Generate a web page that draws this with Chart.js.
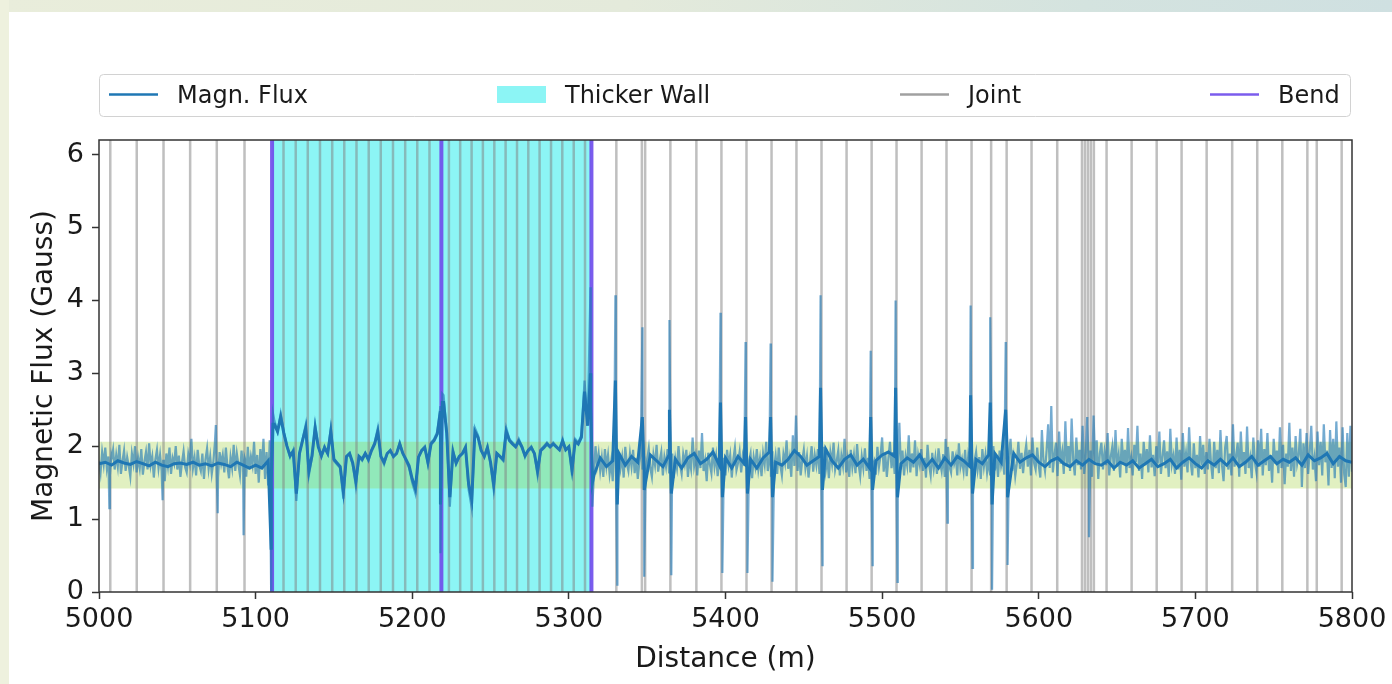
<!DOCTYPE html>
<html>
<head>
<meta charset="utf-8">
<script src="https://cdn.jsdelivr.net/npm/chart.js@4.4.1/dist/chart.umd.min.js"></script>
<style>
  html, body { margin: 0; padding: 0; }
  body { width: 1392px; height: 684px; overflow: hidden; position: relative; background: #ffffff; }
  #frameTop { position: absolute; left: 0; top: 0; width: 1392px; height: 12px;
    background: linear-gradient(to right, #e9eddb 0%, #e4eadb 45%, #d4e3df 78%, #cfe0e1 100%); }
  #frameLeft { position: absolute; left: 0; top: 0; width: 9px; height: 684px; background: #eef1de; }
  canvas { position: absolute; left: 0; top: 0; }
</style>
</head>
<body>
<div id="frameTop"></div>
<div id="frameLeft"></div>
<canvas id="fluxChart" width="1392" height="684"></canvas>
<script>
// ---- pipeline survey, 5000-5800 m ----
const X_MIN = 5000, X_MAX = 5800;
const Y_MIN = 0, Y_MAX = 6.2;
const xTickValues = [5000, 5100, 5200, 5300, 5400, 5500, 5600, 5700, 5800];
const yTickValues = [0, 1, 2, 3, 4, 5, 6];

// raw magnetic flux, west of the thicker wall: 1 m samples from 5000 m
const rawWestStart = 5000, rawWestStep = 1;
const rawFluxWest = [
  1.80, 1.64, 1.92, 1.75, 1.98, 1.70, 1.86, 1.60, 1.82, 1.95, // 5000
  1.68, 1.88, 1.72, 2.02, 1.62, 1.80, 1.94, 1.66, 1.85, 1.73, // 5010
  1.58, 1.90, 1.76, 2.00, 1.64, 1.84, 1.70, 1.96, 1.61, 1.79, // 5020
  1.92, 1.68, 2.04, 1.74, 1.86, 1.57, 1.82, 1.95, 1.70, 1.88, // 5030
  1.66, 1.80, 1.52, 1.90, 1.73, 1.98, 1.62, 1.84, 1.76, 2.00, // 5040
  1.68, 1.87, 1.58, 1.78, 1.93, 1.71, 1.64, 1.89, 1.77, 2.10, // 5050
  1.70, 1.84, 1.60, 1.95, 1.74, 1.66, 1.90, 1.55, 1.82, 1.97, // 5060
  1.69, 1.86, 1.62, 1.78, 2.05, 1.72, 1.58, 1.92, 1.76, 1.88, // 5070
  1.64, 1.98, 1.73, 1.56, 1.85, 1.70, 2.02, 1.66, 1.90, 1.75, // 5080
  1.60, 1.94, 1.72, 1.84, 1.58, 1.99, 1.68, 1.86, 1.74, 2.06, // 5090
  1.62, 1.88, 1.50, 1.96, 1.70, 2.10, 1.55, 1.92, 1.46, 2.08  // 5100
];

// raw magnetic flux along the thicker wall: 2 m samples from 5110 m
const rawWallStart = 5110, rawWallStep = 2;
const rawFluxWall = [
  1.50, 2.35, 2.20, 2.45, 2.20,                               // 5110
  2.00, 1.85, 1.95, 1.25, 1.90, 2.10, 2.30, 1.60, 1.85, 2.30, // 5120
  2.00, 1.85, 2.00, 1.90, 2.25, 1.80, 1.75, 1.70, 1.28, 1.85, // 5140
  1.90, 1.75, 1.45, 1.85, 1.80, 1.90, 1.80, 1.95, 2.05, 2.25, // 5160
  1.85, 1.75, 1.90, 1.95, 1.85, 1.90, 2.05, 1.90, 1.80, 1.70, // 5180
  1.50, 1.35, 1.85, 1.95, 2.00, 1.75, 2.05, 2.10, 2.20, 2.55, // 5200
  2.70, 2.20, 1.17, 1.95, 1.75, 1.85, 1.90, 2.00, 1.40, 1.15, // 5220
  2.25, 2.15, 1.95, 1.85, 2.00, 1.75, 1.40, 1.90, 1.85, 1.80, // 5240
  2.25, 2.10, 2.05, 2.00, 2.10, 2.00, 1.85, 1.95, 2.00, 1.90, // 5260
  1.60, 1.95, 2.00, 2.05, 2.00, 2.05, 2.00, 1.95, 2.10, 1.95, // 5280
  2.00, 1.60, 2.10, 2.05, 2.15, 2.90, 2.30, 2.60              // 5300
];

// raw magnetic flux, east of the thicker wall: 1 m samples from 5315 m
const rawEastStart = 5315, rawEastStep = 1;
const rawFluxEast = [
  1.30, 1.62, 2.00, 1.74, 1.90,                               // 5315
  1.66, 1.84, 1.58, 1.96, 1.72, 1.88, 1.62, 1.79, 1.52, 2.05, // 5320
  1.75, 1.60, 1.92, 1.70, 1.85, 1.57, 1.99, 1.76, 1.66, 1.90, // 5330
  1.72, 1.95, 1.63, 1.84, 1.55, 1.78, 1.93, 1.68, 1.86, 1.60, // 5340
  1.82, 1.97, 1.70, 1.58, 1.88, 1.74, 2.02, 1.65, 1.80, 1.92, // 5350
  1.60, 1.85, 1.72, 1.96, 1.64, 1.78, 1.90, 1.56, 1.83, 1.70, // 5360
  2.00, 1.74, 1.62, 1.89, 1.76, 1.95, 1.58, 1.82, 1.69, 2.12, // 5370
  1.73, 1.86, 1.60, 1.94, 1.70, 2.18, 1.66, 1.80, 1.52, 1.91, // 5380
  1.75, 1.63, 1.98, 1.72, 1.87, 1.59, 1.79, 2.04, 1.68, 1.84, // 5390
  1.60, 1.95, 1.74, 1.88, 1.57, 1.82, 1.98, 1.67, 1.77, 1.92, // 5400
  1.64, 1.86, 1.73, 2.01, 1.61, 1.80, 1.90, 1.56, 1.85, 1.72, // 5410
  1.96, 1.68, 1.83, 1.59, 1.90, 1.75, 2.06, 1.66, 1.81, 1.58, // 5420
  1.93, 1.71, 1.87, 1.62, 1.98, 1.74, 1.60, 1.89, 1.77, 2.08, // 5430
  1.69, 1.84, 1.58, 2.15, 1.73, 2.42, 1.66, 1.92, 1.60, 1.81, // 5440
  1.95, 1.70, 1.86, 1.57, 1.79, 2.00, 1.65, 1.88, 1.74, 1.96, // 5450
  1.62, 1.85, 1.72, 1.99, 1.67, 1.83, 1.56, 1.91, 1.76, 2.05, // 5460
  1.68, 1.80, 1.94, 1.60, 1.87, 1.73, 2.10, 1.64, 1.82, 1.58, // 5470
  1.95, 1.71, 1.88, 1.63, 2.03, 1.75, 1.59, 1.86, 1.70, 1.97, // 5480
  1.66, 1.84, 1.55, 1.92, 1.74, 1.80, 1.61, 1.99, 1.72, 1.87, // 5490
  2.12, 1.65, 1.90, 1.58, 1.83, 2.06, 1.70, 1.92, 1.62, 1.85, // 5500
  1.76, 2.32, 1.68, 1.94, 1.60, 1.86, 1.73, 2.15, 1.64, 1.90, // 5510
  1.71, 2.08, 1.59, 1.88, 1.75, 1.96, 1.66, 1.84, 1.57, 2.02, // 5520
  1.74, 1.60, 1.91, 1.69, 1.85, 1.62, 1.97, 1.78, 1.66, 1.89, // 5530
  1.58, 1.83, 1.99, 1.72, 1.64, 1.93, 1.76, 1.86, 1.60, 2.04, // 5540
  1.71, 1.82, 1.66, 1.95, 1.59, 1.87, 1.74, 1.98, 1.63, 1.80, // 5550
  1.92, 1.68, 1.85, 1.55, 1.96, 1.72, 1.88, 1.64, 1.81, 1.60, // 5560
  1.79, 2.00, 1.67, 1.86, 1.58, 1.94, 1.73, 1.83, 1.61, 1.97, // 5570
  1.70, 1.88, 2.10, 1.66, 1.84, 1.59, 1.76, 2.06, 1.69, 1.91, // 5580
  1.63, 1.86, 2.02, 1.72, 1.95, 1.60, 2.12, 1.77, 1.68, 1.98, // 5590
  1.74, 1.57, 2.22, 1.80, 1.66, 1.94, 2.30, 1.70, 2.55, 1.64, // 5600
  1.88, 2.05, 1.59, 2.20, 1.76, 1.92, 1.62, 2.34, 1.73, 2.00, // 5610
  1.66, 2.38, 1.81, 1.60, 2.12, 1.74, 1.95, 1.68, 2.28, 1.62, // 5620
  1.85, 2.30, 1.70, 1.94, 1.58, 2.42, 1.76, 2.08, 1.55, 1.90, // 5630
  2.05, 1.68, 1.92, 1.74, 2.18, 1.60, 1.86, 2.00, 1.66, 2.22, // 5640
  1.72, 1.88, 1.57, 2.10, 1.76, 1.95, 1.63, 2.25, 1.70, 1.84, // 5650
  1.60, 2.02, 1.78, 2.28, 1.66, 1.90, 1.55, 2.06, 1.74, 1.96, // 5660
  1.64, 2.15, 1.71, 1.88, 1.59, 2.00, 1.76, 2.20, 1.62, 1.85, // 5670
  2.08, 1.70, 1.93, 1.58, 2.24, 1.75, 1.87, 1.62, 2.12, 1.68, // 5680
  1.95, 1.54, 2.18, 1.72, 1.90, 1.64, 2.26, 1.78, 1.60, 2.04, // 5690
  1.70, 1.88, 1.57, 2.14, 1.74, 2.02, 1.62, 1.92, 1.68, 2.10, // 5700
  1.76, 1.55, 2.06, 1.70, 1.95, 1.63, 2.22, 1.74, 1.52, 1.98, // 5710
  2.14, 1.68, 1.90, 1.60, 2.30, 1.72, 1.86, 2.05, 1.58, 2.20, // 5720
  1.75, 1.92, 1.62, 2.27, 1.70, 1.84, 1.56, 2.12, 1.78, 1.64, // 5730
  2.08, 1.72, 2.24, 1.60, 1.96, 1.74, 2.18, 1.66, 1.88, 1.50, // 5740
  2.10, 1.76, 1.94, 1.63, 2.26, 1.70, 2.02, 1.48, 1.90, 1.72, // 5750
  2.32, 1.66, 1.98, 1.58, 2.14, 1.76, 1.88, 2.24, 1.44, 2.04, // 5760
  1.70, 2.18, 1.62, 1.92, 2.28, 1.68, 1.84, 1.52, 2.20, 1.74, // 5770
  2.06, 1.60, 2.30, 1.78, 1.94, 1.46, 2.22, 1.70, 2.10, 1.56, // 5780
  2.34, 1.72, 1.98, 1.50, 2.26, 1.62, 1.44, 2.18, 1.58, 2.28, // 5790
  1.65                                                        // 5800
];

// smoothed magnetic flux
const smoothWestStart = 5000, smoothWestStep = 4;
const smoothFluxWest = [
  1.76, 1.78, 1.74, 1.80, 1.77, 1.75, 1.79, 1.76, 1.73, 1.78,
  1.74, 1.72, 1.76, 1.77, 1.75, 1.78, 1.74, 1.76, 1.73, 1.77,
  1.75, 1.72, 1.78, 1.74, 1.70, 1.74, 1.70, 1.80
];
const smoothWallStart = 5110, smoothWallStep = 2;
const smoothFluxWall = [
  1.55, 2.30, 2.20, 2.40, 2.18,                               // 5110
  2.00, 1.87, 1.93, 1.35, 1.90, 2.08, 2.25, 1.66, 1.87, 2.25, // 5120
  1.99, 1.87, 1.98, 1.90, 2.20, 1.82, 1.77, 1.72, 1.38, 1.86, // 5140
  1.90, 1.77, 1.52, 1.86, 1.82, 1.90, 1.82, 1.94, 2.03, 2.20, // 5160
  1.86, 1.78, 1.90, 1.94, 1.86, 1.90, 2.03, 1.90, 1.82, 1.73, // 5180
  1.55, 1.42, 1.85, 1.94, 1.98, 1.78, 2.03, 2.08, 2.17, 2.48, // 5200
  2.60, 2.18, 1.30, 1.92, 1.77, 1.86, 1.90, 1.98, 1.48, 1.27, // 5220
  2.20, 2.12, 1.94, 1.86, 1.98, 1.78, 1.48, 1.90, 1.86, 1.82, // 5240
  2.20, 2.08, 2.03, 1.99, 2.07, 1.99, 1.87, 1.94, 1.98, 1.90, // 5260
  1.66, 1.94, 1.98, 2.03, 1.99, 2.03, 1.99, 1.95, 2.07, 1.95, // 5280
  1.99, 1.68, 2.07, 2.03, 2.12, 2.75, 2.28, 2.55              // 5300
];
const smoothEastStart = 5316, smoothEastStep = 4;
const smoothFluxEast = [
  1.60,                          // 5316
  1.84, 1.72, 1.80, 1.90, 1.74,  // 5320
  1.86, 1.78, 1.70, 1.88, 1.80,  // 5340
  1.72, 1.88, 1.82, 1.70, 1.84,  // 5360
  1.90, 1.76, 1.82, 1.92, 1.74,  // 5380
  1.84, 1.70, 1.86, 1.76, 1.82,  // 5400
  1.70, 1.84, 1.92, 1.78, 1.74,  // 5420
  1.82, 1.94, 1.86, 1.74, 1.80,  // 5440
  1.86, 1.96, 1.80, 1.70, 1.82,  // 5460
  1.88, 1.74, 1.82, 1.70, 1.80,  // 5480
  1.88, 1.92, 1.86, 1.76, 1.84,  // 5500
  1.78, 1.88, 1.72, 1.82, 1.70,  // 5520
  1.84, 1.74, 1.86, 1.80, 1.72,  // 5540
  1.82, 1.76, 1.88, 1.90, 1.78,  // 5560
  1.86, 1.90, 1.78, 1.84, 1.88,  // 5580
  1.78, 1.72, 1.80, 1.84, 1.76,  // 5600
  1.72, 1.80, 1.74, 1.82, 1.76,  // 5620
  1.74, 1.80, 1.70, 1.78, 1.74,  // 5640
  1.80, 1.70, 1.76, 1.82, 1.72,  // 5660
  1.76, 1.82, 1.70, 1.78, 1.84,  // 5680
  1.76, 1.70, 1.80, 1.74, 1.82,  // 5700
  1.74, 1.84, 1.72, 1.78, 1.86,  // 5720
  1.74, 1.80, 1.86, 1.76, 1.82,  // 5740
  1.78, 1.84, 1.74, 1.88, 1.80,  // 5760
  1.84, 1.90, 1.76, 1.86, 1.80,  // 5780
  1.78                           // 5800
];

// flux excursions at joints and bends: [distance (m), first value, second value]
const rawSpikes = [
  [5007.2, 1.15, 1.85], [5041.2, 1.26, 1.80], [5075.2, 2.29, 1.08], [5092.9, 0.78, 1.80],
  [5110.5, 0.03, 2.45], [5218.6, 0.53, 2.72], [5314.4, 4.18, 1.17],
  [5330.3, 4.07, 0.10], [5347.5, 3.63, 0.21], [5364.8, 3.73, 0.23], [5397.4, 3.83, 0.26],
  [5413.4, 3.43, 0.26], [5429.4, 3.41, 0.14], [5461.3, 4.07, 0.37], [5493.3, 3.31, 0.37],
  [5509.2, 4.00, 0.14], [5541.1, 2.10, 0.95], [5557.1, 3.93, 0.33], [5569.6, 3.77, 0.03],
  [5579.5, 3.43, 0.37], [5631.5, 2.40, 0.75]
];
const smoothSpikes = [
  [5110.5, 0.60, 2.30], [5218.6, 1.20, 2.60], [5314.4, 3.00, 1.50],
  [5330.3, 2.90, 1.20], [5347.5, 2.40, 1.40], [5364.8, 2.50, 1.35], [5397.4, 2.60, 1.30],
  [5413.4, 2.40, 1.35], [5429.4, 2.40, 1.30], [5461.3, 2.80, 1.40], [5493.3, 2.40, 1.40],
  [5509.2, 2.80, 1.30], [5557.1, 2.70, 1.35], [5569.6, 2.60, 1.20], [5579.5, 2.50, 1.30]
];

// pipe joints (m)
const jointPositions = [
  5007.2, 5024.1, 5041.2, 5058.2, 5075.2, 5092.9,
  5117.8, 5125.6, 5133.3, 5141.1, 5148.9, 5156.6, 5164.4, 5172.2, 5179.9, 5187.7, 5195.5, 5203.2, 5211.0,
  5223.4, 5230.6, 5237.9, 5245.1, 5252.4, 5259.6, 5266.9, 5274.1, 5281.3, 5288.6, 5295.8, 5303.1, 5310.3,
  5330.3, 5346.6, 5348.7, 5364.8, 5381.4, 5397.4, 5413.4, 5429.4, 5445.3, 5461.3, 5477.3, 5493.3,
  5509.2, 5525.2, 5541.1, 5557.1, 5569.6, 5579.5, 5595.4, 5611.8,
  5627.6, 5629.5, 5631.4, 5633.3, 5635.2,
  5643.3, 5659.3, 5675.3, 5691.2, 5707.2, 5723.5, 5739.5, 5755.5, 5771.5, 5777.5, 5793.4
];
// pipe bends (m)
const bendPositions = [5110.5, 5218.6, 5314.4];
// thicker-wall section (start, end in m)
const thickerWall = [5110.5, 5314.4];
// normal flux band (Gauss)
const normalBand = [1.42, 2.06];

const legendLabels = ['Magn. Flux', 'Thicker Wall', 'Joint', 'Bend'];

const FONT = "'DejaVu Sans', 'Liberation Sans', sans-serif";
const FLUX_BLUE = '#1f77b4';
const CYAN_FILL = 'rgba(0, 232, 232, 0.45)';
const JOINT_GRAY = 'rgba(128, 128, 128, 0.5)';
const BEND_PURPLE = 'rgba(112, 78, 236, 0.92)';
const BAND_GREEN = 'rgba(154, 205, 50, 0.30)';

function samples(start, step, values) {
  return values.map((v, i) => ({ x: start + step * i, y: v }));
}

function withSpikes(points, spikes) {
  const pts = points.slice();
  spikes.forEach(([d, a, b]) => {
    pts.push({ x: d - 0.6, y: a });
    pts.push({ x: d + 0.6, y: b });
  });
  pts.sort((p, q) => p.x - q.x);
  return pts;
}

function verticalLines(list) {
  const pts = [];
  list.forEach(d => { pts.push({ x: d, y: Y_MIN }, { x: d, y: Y_MAX }, { x: d, y: null }); });
  return pts;
}

const rawSeries = withSpikes([].concat(
  samples(rawWestStart, rawWestStep, rawFluxWest),
  samples(rawWallStart, rawWallStep, rawFluxWall),
  samples(rawEastStart, rawEastStep, rawFluxEast)
), rawSpikes);

const smoothSeries = withSpikes([].concat(
  samples(smoothWestStart, smoothWestStep, smoothFluxWest),
  samples(smoothWallStart, smoothWallStep, smoothFluxWall),
  samples(smoothEastStart, smoothEastStep, smoothFluxEast)
), smoothSpikes);

const lineBase = { pointRadius: 0, pointHoverRadius: 0, tension: 0, spanGaps: false };

// legend box above the axes, plus the four spines
const frameAndLegend = {
  id: 'frameAndLegend',
  afterDraw(chart) {
    const ctx = chart.ctx;
    const a = chart.chartArea;
    ctx.save();
    ctx.strokeStyle = '#333333';
    ctx.lineWidth = 1.5;
    ctx.strokeRect(a.left, a.top, a.right - a.left, a.bottom - a.top);

    const bx = 99.5, by = 74.5, bw = 1251, bh = 42, r = 4;
    ctx.beginPath();
    ctx.moveTo(bx + r, by);
    ctx.arcTo(bx + bw, by, bx + bw, by + bh, r);
    ctx.arcTo(bx + bw, by + bh, bx, by + bh, r);
    ctx.arcTo(bx, by + bh, bx, by, r);
    ctx.arcTo(bx, by, bx + bw, by, r);
    ctx.closePath();
    ctx.fillStyle = 'rgba(255,255,255,0.85)';
    ctx.fill();
    ctx.strokeStyle = '#d2d2d2';
    ctx.lineWidth = 1;
    ctx.stroke();

    const cy = 94.5;
    const items = [
      { kind: 'line', color: FLUX_BLUE, width: 2.5, x: 109 },
      { kind: 'rect', color: CYAN_FILL, x: 497 },
      { kind: 'line', color: 'rgba(128,128,128,0.75)', width: 2.5, x: 900 },
      { kind: 'line', color: BEND_PURPLE, width: 2.5, x: 1210 }
    ];
    ctx.font = '24px ' + FONT;
    ctx.textBaseline = 'alphabetic';
    ctx.textAlign = 'left';
    items.forEach((it, i) => {
      if (it.kind === 'line') {
        ctx.strokeStyle = it.color;
        ctx.lineWidth = it.width;
        ctx.beginPath();
        ctx.moveTo(it.x, cy);
        ctx.lineTo(it.x + 49, cy);
        ctx.stroke();
      } else {
        ctx.fillStyle = it.color;
        ctx.fillRect(it.x, cy - 8.5, 49, 17);
      }
      ctx.fillStyle = '#1a1a1a';
      ctx.fillText(legendLabels[i], it.x + 68, 102.5);
    });
    ctx.restore();
  }
};

new Chart(document.getElementById('fluxChart'), {
  type: 'line',
  data: {
    datasets: [
      Object.assign({}, lineBase, {
        label: 'Thicker Wall',
        data: [{ x: thickerWall[0], y: Y_MAX }, { x: thickerWall[1], y: Y_MAX }],
        borderWidth: 0, borderColor: 'rgba(0,0,0,0)',
        backgroundColor: CYAN_FILL, fill: 'origin', order: 6
      }),
      Object.assign({}, lineBase, {
        label: 'Normal range',
        data: [{ x: X_MIN, y: normalBand[1] }, { x: X_MAX, y: normalBand[1] }],
        borderWidth: 0, borderColor: 'rgba(0,0,0,0)',
        backgroundColor: BAND_GREEN, fill: { value: normalBand[0] }, order: 5
      }),
      Object.assign({}, lineBase, {
        label: 'Joint',
        data: verticalLines(jointPositions),
        borderColor: JOINT_GRAY, borderWidth: 2.5, fill: false, order: 4
      }),
      Object.assign({}, lineBase, {
        label: 'Bend',
        data: verticalLines(bendPositions),
        borderColor: BEND_PURPLE, borderWidth: 4, fill: false, order: 3
      }),
      Object.assign({}, lineBase, {
        label: 'Magn. Flux',
        data: rawSeries,
        borderColor: 'rgba(31,119,180,0.62)', borderWidth: 2.2, fill: false, order: 2
      }),
      Object.assign({}, lineBase, {
        label: 'Magn. Flux (smoothed)',
        data: smoothSeries,
        borderColor: FLUX_BLUE, borderWidth: 3, fill: false, order: 1
      })
    ]
  },
  options: {
    responsive: false,
    animation: false,
    events: [],
    layout: { padding: { top: 140, right: 40, bottom: 0, left: 0 } },
    plugins: { legend: { display: false }, tooltip: { enabled: false } },
    scales: {
      x: {
        type: 'linear',
        min: X_MIN, max: X_MAX,
        afterFit: s => { s.height = 92; },
        afterBuildTicks: s => { s.ticks = xTickValues.map(v => ({ value: v })); },
        border: { display: false },
        grid: { drawOnChartArea: false, drawTicks: true, tickLength: 7, tickWidth: 1.5, tickColor: '#333333' },
        ticks: {
          autoSkip: false, maxRotation: 0, padding: 5,
          color: '#1a1a1a', font: { family: FONT, size: 27 },
          callback: v => String(v)
        },
        title: { display: true, text: 'Distance (m)', color: '#1a1a1a',
          font: { family: FONT, size: 28 }, padding: { top: 0, bottom: 7 } }
      },
      y: {
        type: 'linear',
        min: Y_MIN, max: Y_MAX,
        afterFit: s => { s.width = 99; },
        afterBuildTicks: s => { s.ticks = yTickValues.map(v => ({ value: v })); },
        border: { display: false },
        grid: { drawOnChartArea: false, drawTicks: true, tickLength: 7, tickWidth: 1.5, tickColor: '#333333' },
        ticks: {
          padding: 8,
          color: '#1a1a1a', font: { family: FONT, size: 27 },
          callback: v => String(v)
        },
        title: { display: true, text: 'Magnetic Flux (Gauss)', color: '#1a1a1a',
          font: { family: FONT, size: 28 }, padding: { top: 28, bottom: 0 } }
      }
    }
  },
  plugins: [frameAndLegend]
});
</script>
</body>
</html>
